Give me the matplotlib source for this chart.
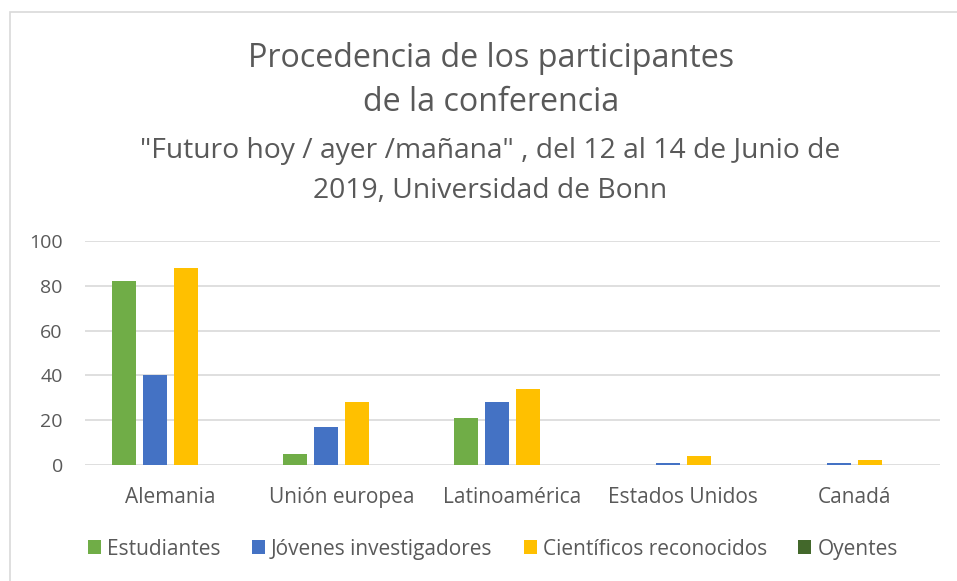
import numpy as np
import matplotlib.pyplot as plt
from matplotlib.patches import Rectangle

categories = ['Alemania', 'Unión europea', 'Latinoamérica', 'Estados Unidos', 'Canadá']
estudiantes = [82, 5, 21, 0, 0]
jovenes = [40, 17, 28, 1, 1]
cientificos = [88, 28, 34, 4, 2]
oyentes = [0, 0, 0, 0, 0]

series = [
    ('Estudiantes', estudiantes, '#70ad47'),
    ('Jóvenes investigadores', jovenes, '#4472c4'),
    ('Científicos reconocidos', cientificos, '#ffc000'),
    ('Oyentes', oyentes, '#43682b'),
]

plt.rcParams['font.family'] = ['Open Sans', 'DejaVu Sans']
txt = '#595959'

fig = plt.figure(figsize=(9.57, 5.81), dpi=100)
ax = fig.add_axes([0.0888, 0.1997, 0.8932, 0.3855])

x = np.arange(len(categories))
step = 0.181
width = 0.14
for i, (name, vals, col) in enumerate(series):
    ax.bar(x + (i - 1.5) * step, vals, width, color=col, label=name, zorder=3)

ax.set_xlim(-0.5, len(categories) - 0.5)
ax.set_ylim(0, 100)
ax.set_yticks(range(0, 101, 20))
ax.set_xticks(x)
ax.set_xticklabels(categories)
ax.grid(axis='y', color='#d9d9d9', linewidth=1.2, zorder=0)
for s in ax.spines.values():
    s.set_visible(False)
ax.tick_params(length=0, labelsize=14, colors=txt)
ax.tick_params(axis='x', labelsize=15, pad=16)
ax.tick_params(axis='y', pad=16)

fig.text(0.513, 0.9, 'Procedencia de los participantes', ha='center', va='center',
         fontsize=23.2, color=txt)
fig.text(0.513, 0.824, 'de la conferencia', ha='center', va='center',
         fontsize=23.2, color=txt)
fig.text(0.512, 0.74, '"Futuro hoy / ayer /mañana" , del 12 al 14 de Junio de',
         ha='center', va='center', fontsize=20.3, color=txt)
fig.text(0.512, 0.672, '2019, Universidad de Bonn', ha='center', va='center',
         fontsize=20.3, color=txt)

leg = fig.legend(loc='center', bbox_to_anchor=(0.515, 0.055), ncol=4, frameon=False,
                 fontsize=15, handlelength=0.62, handleheight=0.62,
                 handletextpad=0.3, columnspacing=1.5, labelcolor=txt)

fig.patches.append(Rectangle((0.0105, -0.1), 1.1, 0.08 + 1.0, transform=fig.transFigure,
                             fill=False, edgecolor='#d9d9d9', linewidth=1.2))

fig.savefig('out.png', dpi=100)
